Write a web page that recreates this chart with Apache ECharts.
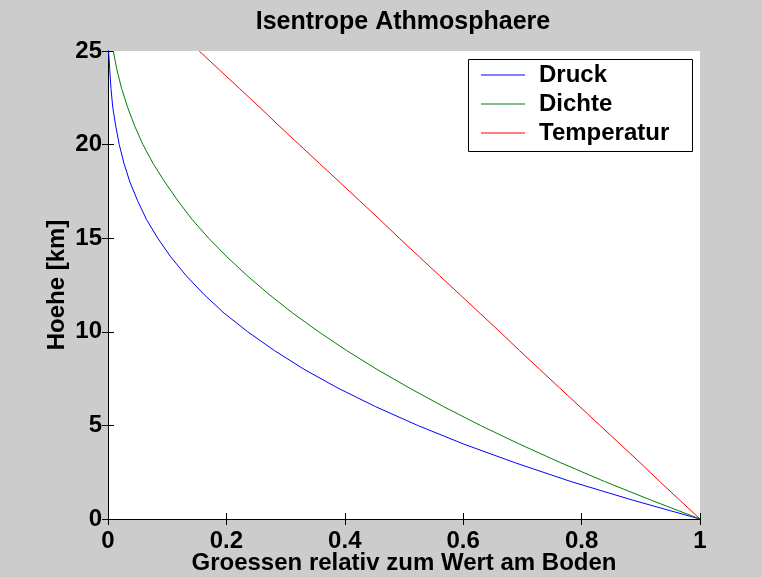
<!DOCTYPE html>
<html>
<head>
<meta charset="utf-8">
<script src="https://cdn.jsdelivr.net/npm/echarts@6/dist/echarts.min.js"></script>
<style>
  html, body { margin: 0; padding: 0; background: #cccccc; }
  #chart { width: 762px; height: 577px; }
</style>
</head>
<body>
<div id="chart"></div>
<script>
// Height above ground [km]
const heights = [0, 1, 2, 3, 4, 5, 6, 7, 8, 9, 10, 11, 12, 13, 14, 15, 16, 17, 18, 19, 20, 21, 22, 23, 24, 25];

// Quantities relative to their value at ground level
const druck = [1.000, 0.887, 0.782, 0.688, 0.601, 0.523, 0.452, 0.388, 0.331, 0.281, 0.236, 0.196, 0.162,
               0.132, 0.106, 0.084, 0.065, 0.050, 0.037, 0.027, 0.019, 0.013, 0.008, 0.005, 0.003, 0.001];
const dichte = [1.000, 0.918, 0.839, 0.765, 0.695, 0.629, 0.567, 0.509, 0.454, 0.403, 0.356, 0.312, 0.272,
                0.235, 0.201, 0.170, 0.142, 0.118, 0.096, 0.076, 0.059, 0.045, 0.033, 0.023, 0.015, 0.009];
const temperatur = [1.000, 0.966, 0.932, 0.899, 0.865, 0.831, 0.797, 0.763, 0.729, 0.695, 0.662, 0.628, 0.594,
                    0.560, 0.526, 0.492, 0.459, 0.425, 0.391, 0.357, 0.323, 0.289, 0.256, 0.222, 0.188, 0.154];

const seriesNames = ['Druck', 'Dichte', 'Temperatur'];
const seriesColors = ['#0000ff', '#008000', '#ff0000'];

const xTicks = { min: 0, max: 1, interval: 0.2 };
const yTicks = { min: 0, max: 25, interval: 5 };

const FONT = '"Liberation Sans", Arial, Helvetica, sans-serif';
const textBase = { fontFamily: FONT, fontWeight: 'bold', fontSize: 24, color: '#000' };

function pairs(values) {
  return values.map((v, i) => [v, heights[i]]);
}

const axisLine = { show: true, lineStyle: { color: '#000', width: 1 } };
const innerTick = { show: true, inside: true, length: 6, lineStyle: { color: '#000', width: 1 } };

const chart = echarts.init(document.getElementById('chart'), null, { renderer: 'canvas' });

chart.setOption({
  backgroundColor: '#cccccc',
  animation: false,
  title: {
    text: 'Isentrope Athmosphaere',
    left: 403,
    textAlign: 'center',
    top: 10,
    padding: 0,
    textStyle: Object.assign({}, textBase, { fontSize: 25 })
  },
  grid: {
    left: 108, right: 62, top: 51, bottom: 58,
    outerBoundsMode: 'none',
    containLabel: false,
    show: true, backgroundColor: '#ffffff', borderWidth: 0
  },
  xAxis: [
    {
      type: 'value', position: 'bottom',
      min: xTicks.min, max: xTicks.max, interval: xTicks.interval,
      axisLine: axisLine, axisTick: innerTick, splitLine: { show: false },
      axisLabel: Object.assign({ margin: 10 }, textBase),
      name: 'Groessen relativ zum Wert am Boden',
      nameLocation: 'middle', nameGap: 32, nameMoveOverlap: false,
      nameTextStyle: Object.assign({}, textBase)
    },
    {
      type: 'value', position: 'top',
      min: xTicks.min, max: xTicks.max, interval: xTicks.interval,
      axisLine: axisLine, axisTick: innerTick, splitLine: { show: false },
      axisLabel: { show: false }
    }
  ],
  yAxis: [
    {
      type: 'value', position: 'left',
      min: yTicks.min, max: yTicks.max, interval: yTicks.interval,
      axisLine: axisLine, axisTick: innerTick, splitLine: { show: false },
      axisLabel: Object.assign({ margin: 6 }, textBase),
      name: 'Hoehe [km]',
      nameLocation: 'middle', nameGap: 39, nameMoveOverlap: false,
      nameTextStyle: Object.assign({}, textBase)
    },
    {
      type: 'value', position: 'right',
      min: yTicks.min, max: yTicks.max, interval: yTicks.interval,
      axisLine: axisLine, axisTick: innerTick, splitLine: { show: false },
      axisLabel: { show: false }
    }
  ],
  legend: {
    orient: 'vertical',
    left: 469, top: 60,
    padding: [1, 0, 0, 12],
    icon: 'rect',
    itemWidth: 44, itemHeight: 1, itemGap: 1,
    data: seriesNames,
    textStyle: Object.assign({ lineHeight: 28, padding: [0, 0, 0, 9] }, textBase),
    z: 10
  },
  graphic: [
    {
      type: 'rect', z: 3,
      shape: { x: 468.5, y: 59.5, width: 224, height: 92 },
      style: { fill: '#ffffff', stroke: '#000', lineWidth: 1 }
    }
  ],
  series: [druck, dichte, temperatur].map((vals, i) => ({
    name: seriesNames[i],
    type: 'line',
    xAxisIndex: 0, yAxisIndex: 0,
    data: pairs(vals),
    showSymbol: false, symbol: 'none',
    lineStyle: { color: seriesColors[i], width: 1 },
    itemStyle: { color: seriesColors[i] },
    z: 2
  }))
});
</script>
</body>
</html>
